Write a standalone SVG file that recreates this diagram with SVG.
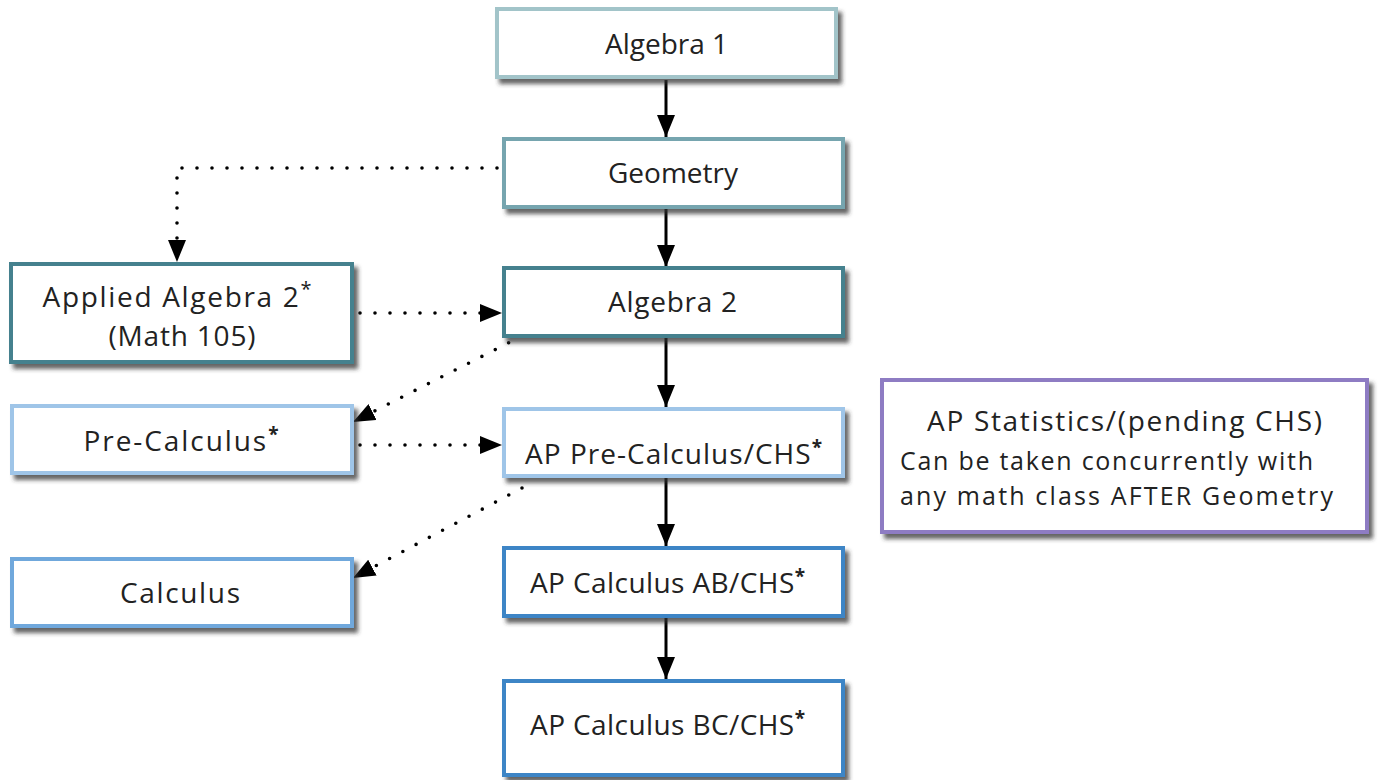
<svg xmlns="http://www.w3.org/2000/svg" width="1382" height="780" viewBox="0 0 1382 780">
<defs>
<filter id="sh" x="-10%" y="-20%" width="130%" height="150%">
<feDropShadow dx="4" dy="5" stdDeviation="2" flood-color="#333" flood-opacity="0.75"/>
</filter>
<marker id="ahs" markerWidth="22" markerHeight="18" refX="22" refY="9" orient="auto" markerUnits="userSpaceOnUse" viewBox="0 0 22 18">
<path d="M0,0 L22,9 L0,18 z" fill="#000"/>
</marker>
</defs>
<style>
.box{fill:#fff;stroke-width:4;filter:url(#sh)}
.t{font-family:"Open Sans","Noto Sans","Liberation Sans",sans-serif;font-size:28px;fill:#222;text-anchor:middle}
.l{text-anchor:start;font-size:25px}
.sup{font-size:19px;font-weight:bold}
.solid{stroke:#000;stroke-width:3;fill:none;marker-end:url(#ahs)}
.dot{stroke:#000;stroke-width:3.6;fill:none;stroke-dasharray:0 15;stroke-linecap:round;marker-end:url(#ahs)}
</style>
<rect width="1382" height="780" fill="#fff"/>
<g id="connectors">
<line class="solid" x1="666" y1="80" x2="666" y2="137"/>
<line class="solid" x1="666" y1="209" x2="666" y2="267"/>
<line class="solid" x1="666" y1="338" x2="666" y2="407"/>
<line class="solid" x1="666" y1="478" x2="666" y2="546"/>
<line class="solid" x1="666" y1="618" x2="666" y2="679"/>
<polyline class="dot" points="497,168 177,168 177,262"/>
<line class="dot" x1="360" y1="313" x2="502" y2="313"/>
<line class="dot" x1="522" y1="336" x2="353" y2="422"/>
<line class="dot" x1="360" y1="445" x2="502" y2="445"/>
<line class="dot" x1="522" y1="488" x2="353" y2="578"/>
</g>
<g id="algebra1">
<rect class="box" x="497" y="9" width="339" height="68" stroke="#a2c4c9"/>
<text class="t" x="666.5" y="54" textLength="123">Algebra 1</text>
</g>
<g id="geometry">
<rect class="box" x="504" y="139" width="339" height="68" stroke="#76a5af"/>
<text class="t" x="673" y="183" textLength="130">Geometry</text>
</g>
<g id="algebra2">
<rect class="box" x="504" y="268" width="339" height="68" stroke="#45818e"/>
<text class="t" x="672.5" y="312" textLength="129">Algebra 2</text>
</g>
<g id="applied-algebra2">
<rect class="box" x="11" y="264" width="341" height="98" stroke="#45818e"/>
<text class="t" x="177" y="307" font-size="30" textLength="269">Applied Algebra 2<tspan font-size="20" dy="-11">*</tspan></text>
<text class="t" x="182" y="346" font-size="27" textLength="147">(Math 105)</text>
</g>
<g id="ap-precalc">
<rect class="box" x="504" y="409" width="339" height="67" stroke="#9fc5e8"/>
<text class="t" x="673.5" y="464" textLength="297">AP Pre-Calculus/CHS<tspan class="sup" dy="-10">*</tspan></text>
</g>
<g id="precalc">
<rect class="box" x="12" y="406" width="340" height="67" stroke="#9fc5e8"/>
<text class="t" x="181" y="451" textLength="195">Pre-Calculus<tspan class="sup" dy="-10">*</tspan></text>
</g>
<g id="calculus">
<rect class="box" x="12" y="559" width="340" height="67" stroke="#6fa8dc"/>
<text class="t" x="180" y="603" textLength="120">Calculus</text>
</g>
<g id="ap-calc-ab">
<rect class="box" x="504" y="548" width="339" height="68" stroke="#3d85c6"/>
<text class="t" x="667.5" y="593" textLength="275">AP Calculus AB/CHS<tspan class="sup" dy="-10">*</tspan></text>
</g>
<g id="ap-calc-bc">
<rect class="box" x="504" y="681" width="339" height="94" stroke="#3d85c6"/>
<text class="t" x="667.5" y="735" textLength="275">AP Calculus BC/CHS<tspan class="sup" dy="-10">*</tspan></text>
</g>
<g id="ap-stats">
<rect class="box" x="882" y="380" width="485" height="152" stroke="#8e7cc3"/>
<text class="t" x="1124.5" y="431" font-size="28" textLength="395">AP Statistics/(pending CHS)</text>
<text class="t l" x="900" y="470" textLength="413">Can be taken concurrently with</text>
<text class="t l" x="900" y="505" textLength="433">any math class AFTER Geometry</text>
</g>
</svg>
